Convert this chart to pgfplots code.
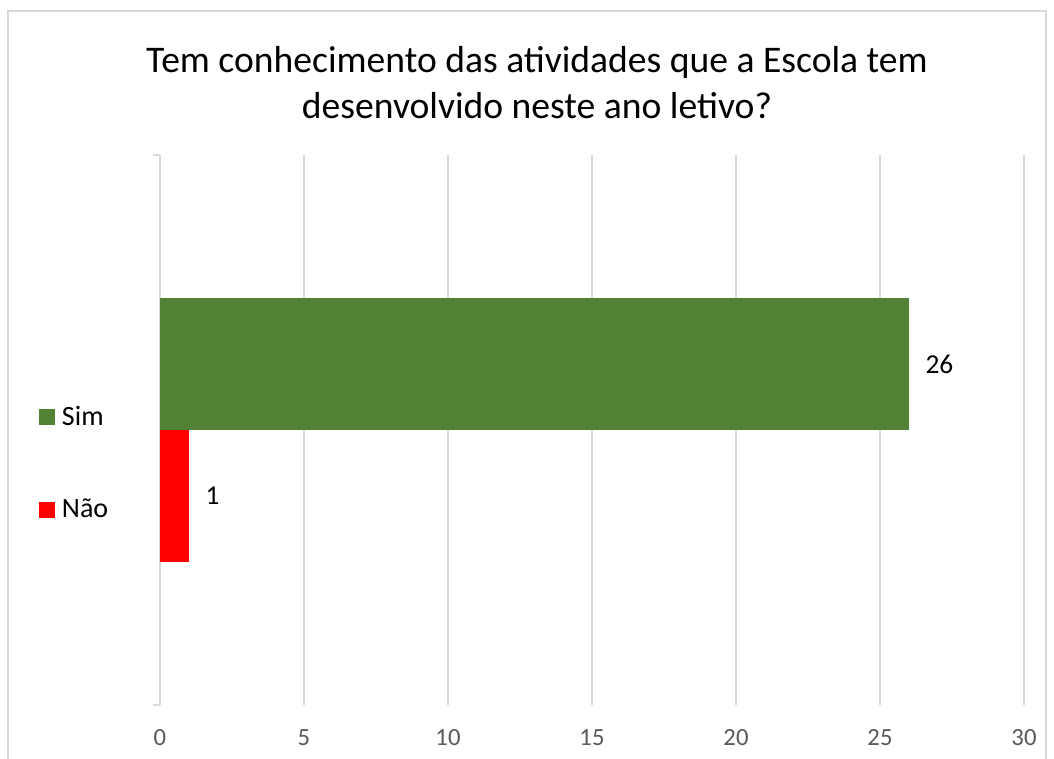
\documentclass[border=0pt]{standalone}
\usepackage{fontspec}
\setmainfont{Carlito}
\usepackage{pgfplots}
\pgfplotsset{compat=1.18}
\definecolor{simgreen}{HTML}{548235}
\definecolor{naored}{HTML}{FF0000}
\definecolor{gridgray}{HTML}{D9D9D9}
\definecolor{ticktext}{HTML}{595959}
\begin{document}
\begin{tikzpicture}
% page: 1054x758 px, 1px = 0.75pt, axis origin at px (160,705)
\useasboundingbox (-120pt,-39.75pt) rectangle (670.5pt,528.75pt);
\draw[gridgray, line width=1pt] (-114pt,-60pt) -- (-114pt,520.5pt) -- (664.5pt,520.5pt) -- (664.5pt,-60pt);
\begin{axis}[
at={(0,0)}, anchor=south west,
scale only axis,
width=648pt, height=412.5pt,
xbar,
bar width=99pt,
xmin=0, xmax=30,
ymin=-1, ymax=1,
xtick={0,5,...,30},
ytick={-1,1},
yticklabels={},
axis x line*=bottom,
axis y line*=left,
x axis line style={draw=none},
y axis line style={draw=gridgray, line width=0.9pt},
xtick style={draw=none},
ytick style={draw=gridgray, line width=0.9pt},
tick align=outside,
major tick length=5pt,
xmajorgrids,
grid style={gridgray, line width=0.9pt},
/pgf/number format/assume math mode=true,
xticklabel style={font=\fontsize{18.5}{22}\selectfont, text=ticktext, yshift=-10pt},
nodes near coords,
nodes near coords style={anchor=west, xshift=9pt, font=\fontsize{20.5}{24}\selectfont, text=black},
legend style={draw=none, fill=none, at={(-0.1446,0.44)}, anchor=west,
  font=\fontsize{21}{25}\selectfont, row sep=50pt, legend cell align=left,
  nodes={inner xsep=5pt}},
legend image code/.code={\fill[#1] (0pt,-6pt) rectangle (12pt,6pt);},
]
\addplot+[draw=none, fill=simgreen, bar shift=49.5pt] coordinates {(26,0)};
\addplot+[draw=none, fill=naored, bar shift=-49.5pt] coordinates {(1,0)};
\legend{Sim,Não}
\end{axis}
\node[align=center, font=\fontsize{28.2}{34.5}\selectfont] at (282.75pt,466.9pt)
  {Tem conhecimento das atividades que a Escola tem\\desenvolvido neste ano letivo?};
\end{tikzpicture}
\end{document}
